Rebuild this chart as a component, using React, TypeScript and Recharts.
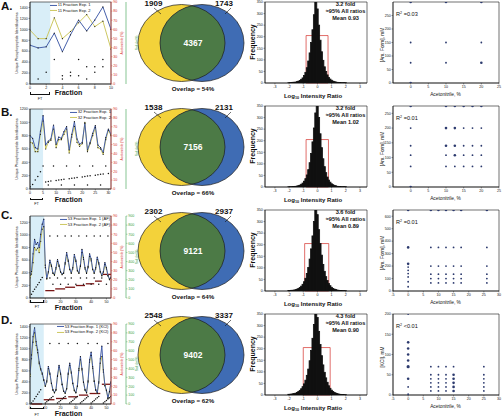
import React from 'react'
import {
  ComposedChart, Line, Scatter, XAxis, YAxis, ZAxis, ReferenceArea,
  BarChart, Bar, ScatterChart,
} from 'recharts'

const FONT = 'Arial, "Liberation Sans", Helvetica, sans-serif'
const INK = '#111'
const BLUE = '#4660ab'
const OLIVE = '#cdc862'
const RED = '#d42f2a'
const GREEN = '#37a049'
const DARK_RED = '#7a1616'
const FT_FILL = '#d9eef8'
const V_YELLOW = '#f3d23a'
const V_BLUE = '#3f6cb4'
const V_GREEN = '#4c7a46'
const NAVY = '#2c3a6e'

// ---------- fraction profiles (phosphopeptide IDs per fraction) ----------
const frac11 = [0, 1, 2, 3, 4, 5, 6, 7, 8, 9, 10]
const frac32 = [0, 1, 2, 3, 4, 5, 6, 7, 8, 9, 10, 11, 12, 13, 14, 15, 16, 17, 18, 19, 20, 21, 22, 23, 24, 25, 26, 27, 28, 29, 30, 31]
const frac54 = [0, 1, 2, 3, 4, 5, 6, 7, 8, 9, 10, 11, 12, 13, 14, 15, 16, 17, 18, 19, 20, 21, 22, 23, 24, 25, 26,
  27, 28, 29, 30, 31, 32, 33, 34, 35, 36, 37, 38, 39, 40, 41, 42, 43, 44, 45, 46, 47, 48, 49, 50, 51, 52, 53]

const exp1A = [710, 660, 680, 930, 590, 900, 1170, 970, 1170, 1410, 1000]
const exp2A = [985, 830, 830, 1210, 830, 960, 1120, 1270, 1050, 1150, 640]

const exp1B = [800, 760, 620, 600, 870, 1100, 660, 720, 750, 960, 670, 780, 760, 860, 935, 585,
  820, 1010, 750, 670, 700, 985, 585, 700, 835, 950, 660, 620, 550, 770, 900, 820]
const exp2B = [700, 690, 560, 560, 820, 1020, 600, 700, 730, 900, 620, 740, 740, 820, 900, 540,
  780, 940, 700, 640, 680, 1000, 560, 680, 800, 920, 620, 600, 520, 740, 880, 800]

const exp1C = [360, 420, 700, 930, 850, 880, 800, 1010, 1170, 1250, 520, 310, 420, 600, 520, 400, 370, 480,
  610, 520, 420, 380, 400, 560, 720, 600, 460, 400, 480, 690, 600, 440, 400, 520, 770, 640, 480, 400,
  500, 700, 620, 460, 400, 480, 650, 560, 420, 360, 420, 560, 480, 360, 300, 330]
const exp2C = [320, 380, 560, 800, 760, 790, 720, 900, 1090, 1130, 480, 300, 400, 560, 500, 390, 360, 460,
  580, 500, 410, 370, 390, 540, 680, 580, 450, 390, 460, 650, 580, 430, 390, 500, 720, 610, 460, 390,
  480, 660, 590, 450, 390, 460, 610, 540, 410, 350, 400, 530, 460, 350, 290, 310]

const exp1D = [540, 890, 1220, 1380, 1130, 980, 760, 640, 560, 440, 330, 420, 680, 560, 380, 260, 210, 260,
  520, 700, 560, 360, 240, 200, 280, 560, 740, 580, 380, 250, 210, 330, 640, 860, 640, 400, 260, 210,
  420, 800, 940, 680, 420, 260, 200, 400, 820, 1050, 620, 340, 250, 110, 230, 400]
const exp2D = [500, 820, 1120, 1290, 1060, 930, 730, 620, 540, 430, 320, 400, 640, 540, 370, 250, 200, 250,
  500, 670, 540, 350, 230, 190, 270, 540, 700, 560, 370, 240, 200, 320, 610, 800, 620, 390, 250, 200,
  400, 760, 880, 650, 410, 250, 190, 380, 740, 860, 580, 330, 240, 100, 220, 380]

// black markers (acetonitrile %, right red axis)
const dotsA = [[1, 5.5], [2, 13], [3, 27], [4, 9], [4, 5.5], [5, 13], [5, 9], [6, 27], [6, 9], [7, 19], [7, 5.5],
  [8, 19], [8, 13], [9, 27], [9, 19]]
const dotsB = [[0, 2.5], [1, 5], [2, 10], [3, 14], [4, 19.5], [5, 26],
  [9, 26], [14, 26], [19, 26], [24, 26], [29, 26],
  [6, 8], [7, 8.5], [8, 9], [10, 9.5], [11, 10], [12, 10.5], [13, 11], [15, 11.5], [16, 12], [17, 12.5],
  [18, 13], [20, 13.5], [21, 14], [22, 14.5], [23, 15], [25, 15.5], [26, 16], [27, 16.5], [28, 17], [30, 17.5],
  [7, 4.5], [12, 4.5], [17, 4.5], [22, 4.5], [27, 4.5]]
const dotsC = [[1, 4], [2, 7], [3, 9.5], [4, 12], [5, 14.5], [6, 17], [7, 20], [8, 22.5],
  [13, 68], [18, 68], [23, 68], [27, 68], [32, 68], [37, 68], [42, 68], [46, 68], [51, 68],
  [13, 22], [18, 22], [23, 22], [27, 22], [33, 22], [37, 22], [42, 22], [47, 22],
  [15, 15], [20, 15], [25, 15], [30, 15], [35, 15], [40, 15], [45, 15], [50, 15]]
const dotsD = [[1, 1], [2, 3.5], [3, 6], [4, 8.5], [5, 11], [6, 13.5], [7, 16],
  [10, 1], [11, 2.5], [12, 4], [13, 5.5], [14, 7], [15, 8.5],
  [18, 1], [19, 2.5], [20, 4], [21, 5.5], [22, 7], [23, 8.5],
  [26, 1], [27, 2.5], [28, 4], [29, 5.5], [30, 7], [31, 8.5],
  [33, 1], [34, 2.5], [35, 4], [36, 5.5], [37, 7], [38, 8.5],
  [40, 1], [41, 2.5], [42, 4], [43, 5.5], [44, 7], [45, 8.5],
  [48, 1], [49, 2.5], [50, 4], [51, 5.5], [52, 7], [53, 8.5],
  [13, 68], [19, 68], [25, 68], [31, 68], [38, 68], [44, 68], [51, 68]]

// salt steps [from fraction, to fraction, mM]
const stepsC = [[10, 16, 81], [16.5, 23, 100], [23, 29.5, 118], [30, 36, 137], [36.5, 42, 156], [42.5, 47, 185], [47, 53, 259]]
const stepsD = [[1, 8, 0], [9, 16, 48], [17, 24, 62], [25, 31, 81], [32, 38, 100], [39, 46, 118], [47, 53, 222]]

const legendNames = [
  ['11 Fraction Exp. 1', '11 Fraction Exp. 2'],
  ['32 Fraction Exp. 1', '32 Fraction Exp. 2'],
  ['53 Fraction Exp. 1 (AF)', '53 Fraction Exp. 2 (AF)'],
  ['53 Fraction Exp. 1 (KCl)', '53 Fraction Exp. 2 (KCl)'],
]
const ftEnd = [2.5, 5, 9.3, 9]
const fracTicks = [[0, 2, 4, 6, 8, 10], [0, 5, 10, 15, 20, 25, 30], [0, 10, 20, 30, 40, 50], [0, 10, 20, 30, 40, 50]]
const idsMax = [1500, 1200, 1300, 1450]
const idsTicks = [
  [0, 200, 400, 600, 800, 1000, 1200, 1400],
  [0, 200, 400, 600, 800, 1000, 1200],
  [0, 200, 400, 600, 800, 1000, 1200],
  [0, 200, 400, 600, 800, 1000, 1200, 1400],
]
const acnTicks = [0, 10, 20, 30, 40, 50, 60, 70, 80, 90]
const saltTicks = [0, 100, 200, 300, 400, 500, 600, 700, 800, 900]

// ---------- Venn ----------
const vennLeft = [1909, 1538, 2302, 2548]
const vennRight = [1743, 2131, 2937, 3337]
const vennBoth = [4367, 7156, 9121, 9402]
const overlapPct = [54, 66, 64, 62]

// ---------- ratio histograms ----------
const histBins = [-2, -1.9, -1.8, -1.7, -1.6, -1.5, -1.4, -1.3, -1.2, -1.1, -1, -0.9, -0.8, -0.7, -0.6, -0.5,
  -0.4, -0.3, -0.2, -0.1, 0, 0.1, 0.2, 0.3, 0.4, 0.5, 0.6, 0.7, 0.8, 0.9, 1, 1.1, 1.2, 1.3, 1.4, 1.5, 1.6,
  1.7, 1.8, 1.9, 2]
const histA = [1, 1, 2, 3, 3, 4, 6, 8, 11, 16, 22, 32, 46, 66, 95, 130, 175, 230, 295, 360, 320, 250, 185, 135,
  98, 70, 50, 35, 24, 17, 12, 8, 6, 4, 3, 2, 2, 1, 1, 1, 1]
const histB = [1, 1, 1, 2, 2, 3, 4, 6, 8, 12, 17, 25, 36, 52, 75, 105, 145, 195, 255, 320, 360, 300, 230, 170,
  122, 88, 62, 43, 30, 21, 14, 10, 7, 5, 3, 2, 2, 1, 1, 1, 1]
const histC = [2, 2, 3, 3, 4, 6, 8, 11, 15, 21, 29, 40, 55, 76, 102, 138, 182, 238, 300, 360, 330, 265, 205, 155,
  115, 85, 62, 45, 32, 23, 16, 11, 8, 6, 4, 3, 2, 2, 1, 1, 1]
const histD = [3, 3, 4, 5, 6, 8, 11, 15, 20, 27, 36, 48, 64, 85, 112, 148, 192, 245, 305, 360, 335, 275, 218, 170,
  130, 98, 74, 55, 40, 29, 21, 15, 11, 8, 6, 4, 3, 2, 2, 1, 1]
const foldChange = ['3.2', '3.2', '3.6', '4.3']
const meanRatio = ['0.93', '1.02', '0.89', '0.90']
const bracket95 = [[-0.8, 0.75], [-0.8, 0.78], [-0.9, 0.8], [-1.0, 0.9]]
const histTicks = [-3, -2, -1, 0, 1, 2, 3]
const freqTicks = [0, 50, 100, 150, 200, 250, 300, 350]

// ---------- salt vs acetonitrile scatter [acn %, salt mM, overlapping runs] ----------
const scA = [[0, 0, 2], [0, 75, 1], [0, 150, 1], [0, 300, 2], [10, 75, 1], [10, 150, 1], [10, 300, 2],
  [20, 75, 2], [20, 150, 1], [20, 300, 2]]
const scB = [[0, 0, 2], [0, 70, 1], [0, 108, 1], [0, 140, 1], [0, 200, 1], [0, 275, 2],
  [10, 70, 1], [10, 108, 1], [10, 140, 2], [10, 200, 2], [10, 275, 2],
  [12.5, 70, 1], [12.5, 108, 2], [12.5, 140, 2], [12.5, 200, 2], [12.5, 275, 2],
  [15, 70, 1], [15, 108, 1], [15, 140, 1], [15, 200, 1], [15, 275, 2],
  [17.5, 70, 1], [17.5, 108, 1], [17.5, 140, 1], [17.5, 200, 1], [17.5, 275, 2],
  [20, 70, 1], [20, 108, 1], [20, 140, 1], [20, 200, 1], [20, 275, 2]]
const scC = [[0, 650, 2], [0, 350, 2], [0, 218, 2], [0, 192, 1], [0, 166, 1], [0, 140, 1], [0, 113, 1], [0, 74, 1], [0, 34, 1],
  [7.5, 650, 2], [7.5, 350, 1], [7.5, 200, 1], [7.5, 135, 1], [7.5, 100, 1], [7.5, 65, 1],
  [10, 650, 2], [10, 350, 1], [10, 200, 1], [10, 135, 1], [10, 100, 1], [10, 65, 1],
  [12.5, 650, 2], [12.5, 350, 1], [12.5, 200, 1], [12.5, 135, 1], [12.5, 100, 1], [12.5, 65, 1],
  [15, 650, 2], [15, 350, 1], [15, 200, 1], [15, 135, 1], [15, 100, 1], [15, 65, 1],
  [17.5, 650, 2], [17.5, 350, 1], [17.5, 200, 1], [17.5, 135, 1], [17.5, 100, 1], [17.5, 65, 1],
  [26, 650, 2], [26, 350, 1], [26, 200, 1], [26, 135, 1], [26, 100, 1], [26, 65, 1]]
const scD = [[0, 200, 1], [0, 130, 2], [0, 115, 2], [0, 100, 2], [0, 85, 2], [0, 70, 3], [0, 40, 2], [0, 20, 1], [0, 2, 1],
  [7.5, 70, 1], [7.5, 50, 1], [7.5, 40, 1], [7.5, 30, 1], [7.5, 20, 1], [7.5, 10, 1],
  [10, 70, 1], [10, 50, 1], [10, 40, 1], [10, 30, 1], [10, 20, 1], [10, 10, 1],
  [12.5, 70, 1], [12.5, 50, 1], [12.5, 40, 1], [12.5, 30, 1], [12.5, 20, 1], [12.5, 10, 1],
  [15, 70, 1], [15, 50, 2], [15, 40, 2], [15, 30, 2], [15, 20, 2], [15, 10, 2],
  [25, 70, 1], [25, 50, 1], [25, 40, 1], [25, 30, 1], [25, 20, 1], [25, 10, 1]]
const scXDom = [[-5, 25], [-5, 25], [-5, 30], [-5, 30]]
const scXTicks = [[0, 5, 10, 15, 20, 25], [0, 5, 10, 15, 20, 25], [-5, 0, 5, 10, 15, 20, 25, 30], [-5, 0, 5, 10, 15, 20, 25, 30]]
const scYMax = [300, 275, 650, 200]
const scYTicks = [[0, 50, 100, 150, 200, 250], [0, 50, 100, 150, 200, 250], [0, 100, 200, 300, 400, 500, 600], [0, 50, 100, 150, 200]]
const scYLabel = ['[Am. Form], mM', '[Am. Form], mM', '[Am. Form], mM', '[KCl], mM']
const rSquared = ['=0.03', '=0.01', '=0.01', '<0.01']

// layout per row
const PANEL_LETTERS = ['A.', 'B.', 'C.', 'D.']
const LETTER_Y = [6.5, 112.5, 216, 320.5]
const LINE_TOP = [2, 109, 216, 323.5]
const LINE_H = [82, 80, 82, 80]
const FRACTION_Y = [92, 199, 306.5, 412.5]
const BRACKET_Y = [94.5, 200, 302.5, 409]
const FT_Y = [100, 205, 308.3, 416]
const LEGEND_X = [50, 70, 60, 57]
const RIGHT_TOP = [0, 104, 208, 312]

const lineFracs = [frac11, frac32, frac54, frac54]
const lineExp1 = [exp1A, exp1B, exp1C, exp1D]
const lineExp2 = [exp2A, exp2B, exp2C, exp2D]
const lineDots = [dotsA, dotsB, dotsC, dotsD]
const lineSteps = [[], [], stepsC, stepsD]
const histCounts = [histA, histB, histC, histD]
const scatterSets = [scA, scB, scC, scD]

const PLOT_L = 30
const PLOT_W = 81
const HIST_BIN_PX = 102 / 7.2 * 0.1

function Txt({ x, y, size, bold, color, rot, align = 'c', children }: any) {
  const tx = align === 'l' ? '0%' : align === 'r' ? '-100%' : '-50%'
  return (
    <div
      style={{
        position: 'absolute', left: x, top: y, fontSize: size, lineHeight: 1,
        fontWeight: bold ? 700 : 400, color: color || INK, whiteSpace: 'nowrap',
        transform: `translate(${tx}, -50%)` + (rot ? ` rotate(${rot}deg)` : ''),
      }}
    >
      {children}
    </div>
  )
}

const tinyDot = (p: any) => <circle cx={p.cx} cy={p.cy} r={0.75} fill={INK} />
const lineDot = { r: 0.6, fill: INK, stroke: 'none' }

// histogram bars are drawn touching each other
function HistBar(p: any) {
  if (!p.height || p.height <= 0) return null
  const w = Math.max(p.width || 0, HIST_BIN_PX) + 0.6
  const cx = p.x + (p.width || 0) / 2
  return <rect x={cx - w / 2} y={p.y} width={w} height={p.height} fill={INK} stroke={INK} strokeWidth={0.8} />
}

function axisStyle(color: string) {
  return {
    tick: { fontSize: 3.6, fill: color },
    axisLine: { stroke: color, strokeWidth: 0.6 },
    tickLine: { stroke: color, strokeWidth: 0.4 },
    tickSize: 1.5,
    tickMargin: 0.8,
    interval: 0 as const,
  }
}

function LinePanel({ r }: { r: number }) {
  const frac = lineFracs[r]
  const data = frac.map((x, i) => ({ x, exp1: lineExp1[r][i], exp2: lineExp2[r][i] }))
  const dots = lineDots[r].map(([x, y]) => ({ x, y }))
  const xDom = [frac[0], frac[frac.length - 1]]
  const top = LINE_TOP[r]
  const h = LINE_H[r]
  const ftW = ((ftEnd[r] - xDom[0]) / (xDom[1] - xDom[0])) * PLOT_W
  const mid = top + h / 2

  return (
    <>
      <div style={{ position: 'absolute', left: 0, top: top - 2 }}>
        <ComposedChart width={142} height={h + 8} data={data} margin={{ top: 2, right: 0, bottom: 0, left: 0 }}>
          <ReferenceArea yAxisId="ids" x1={xDom[0]} x2={ftEnd[r]} fill={FT_FILL} fillOpacity={1} stroke="none" />
          <XAxis dataKey="x" type="number" domain={xDom} ticks={fracTicks[r]} height={6} allowDataOverflow {...axisStyle(INK)} />
          <YAxis yAxisId="ids" type="number" width={30} domain={[0, idsMax[r]]} ticks={idsTicks[r]} allowDataOverflow {...axisStyle(INK)} />
          <YAxis yAxisId="acn" type="number" orientation="right" width={15} domain={[0, 90]} ticks={acnTicks} {...axisStyle(RED)} />
          <YAxis yAxisId="salt" type="number" orientation="right" width={16} domain={[0, 900]} ticks={saltTicks} {...axisStyle(GREEN)} />
          <ReferenceArea yAxisId="ids" x1={xDom[0]} x2={xDom[1]} y1={0} y2={idsMax[r]} fill="none" stroke={INK} strokeWidth={0.6} />
          {lineSteps[r].map(([a, b, v], i) => (
            <Line
              key={`step-${i}`}
              data={[{ x: a, s: v }, { x: b, s: v }]}
              dataKey="s"
              yAxisId="salt"
              stroke={DARK_RED}
              strokeWidth={1.3}
              dot={false}
              isAnimationActive={false}
            />
          ))}
          <Scatter data={dots} dataKey="y" yAxisId="acn" shape={tinyDot} isAnimationActive={false} />
          <Line dataKey="exp2" yAxisId="ids" stroke={OLIVE} strokeWidth={1} dot={lineDot} isAnimationActive={false} />
          <Line dataKey="exp1" yAxisId="ids" stroke={BLUE} strokeWidth={1} dot={lineDot} isAnimationActive={false} />
        </ComposedChart>
      </div>

      <Txt x={1} y={LETTER_Y[r]} size={11.5} bold align="l">{PANEL_LETTERS[r]}</Txt>
      <Txt x={17.5} y={mid} size={3.6} rot={-90}>Unique Phosphopeptide Identifications</Txt>
      <Txt x={122.5} y={mid} size={3.4} rot={-90} color={RED}>Acetonitrile (%)</Txt>
      <Txt x={137.5} y={mid} size={3.4} rot={-90} color={GREEN}>Salt (mM)</Txt>

      {legendNames[r].map((name, i) => (
        <div
          key={name}
          style={{
            position: 'absolute', left: LEGEND_X[r], top: top + 3 + i * 5.5, display: 'flex',
            alignItems: 'center', gap: 1.2, transform: 'translateY(-50%)',
          }}
        >
          <span style={{ display: 'block', width: 6.5, height: 1, background: i === 0 ? BLUE : OLIVE }} />
          <span style={{ fontSize: 4.1, lineHeight: 1, whiteSpace: 'nowrap' }}>{name}</span>
        </div>
      ))}

      <Txt x={68.5} y={FRACTION_Y[r]} size={7} bold>Fraction</Txt>
      <div
        style={{
          position: 'absolute', left: PLOT_L, top: BRACKET_Y[r] - 2.5, width: ftW, height: 2.5,
          borderLeft: `0.6px solid ${INK}`, borderRight: `0.6px solid ${INK}`, borderBottom: `0.6px solid ${INK}`,
          boxSizing: 'border-box',
        }}
      />
      <Txt x={PLOT_L + ftW / 2} y={FT_Y[r]} size={3.8}>FT</Txt>
    </>
  )
}

const VENN_RX1 = 43.5
const VENN_RX2 = 42
const VENN_RY = 38.5

function VennPanel({ r }: { r: number }) {
  const top = RIGHT_TOP[r]
  const clipId = `venn-clip-${r}`
  const left = [{ x: 56.5, y: 43 }]
  const right = [{ x: 77, y: 43 }]

  return (
    <>
      <div style={{ position: 'absolute', left: 125, top }}>
        <ScatterChart width={130} height={100} margin={{ top: 0, right: 0, bottom: 0, left: 0 }}>
          <XAxis dataKey="x" type="number" domain={[0, 130]} hide />
          <YAxis dataKey="y" type="number" domain={[0, 100]} reversed hide />
          <Scatter
            data={left}
            isAnimationActive={false}
            shape={(p: any) => (
              <g>
                <defs>
                  <clipPath id={clipId}>
                    <ellipse cx={p.cx} cy={p.cy} rx={VENN_RX1} ry={VENN_RY} />
                  </clipPath>
                </defs>
                <ellipse cx={p.cx} cy={p.cy} rx={VENN_RX1} ry={VENN_RY} fill={V_YELLOW} />
              </g>
            )}
          />
          <Scatter
            data={right}
            isAnimationActive={false}
            shape={(p: any) => <ellipse cx={p.cx} cy={p.cy} rx={VENN_RX2} ry={VENN_RY} fill={V_BLUE} />}
          />
          <Scatter
            data={right}
            isAnimationActive={false}
            shape={(p: any) => (
              <ellipse cx={p.cx} cy={p.cy} rx={VENN_RX2} ry={VENN_RY} fill={V_GREEN} clipPath={`url(#${clipId})`} />
            )}
          />
          <Scatter
            data={left}
            isAnimationActive={false}
            shape={(p: any) => <ellipse cx={p.cx} cy={p.cy} rx={VENN_RX1} ry={VENN_RY} fill="none" stroke="#1c1c1c" strokeWidth={0.7} />}
          />
          <Scatter
            data={right}
            isAnimationActive={false}
            shape={(p: any) => <ellipse cx={p.cx} cy={p.cy} rx={VENN_RX2} ry={VENN_RY} fill="none" stroke="#1c1c1c" strokeWidth={0.7} />}
          />
        </ScatterChart>
      </div>
      <svg width={130} height={30} style={{ position: 'absolute', left: 125, top }}>
        <line x1={29} y1={8} x2={36} y2={14} stroke={INK} strokeWidth={0.6} />
        <line x1={106} y1={8} x2={100} y2={14} stroke={INK} strokeWidth={0.6} />
      </svg>
      <Txt x={153.5} y={top + 3.5} size={8} bold>{vennLeft[r]}</Txt>
      <Txt x={224} y={top + 3.5} size={8} bold>{vennRight[r]}</Txt>
      <Txt x={193} y={top + 43} size={8.5} bold color="#fff">{vennBoth[r]}</Txt>
      <Txt x={193} y={top + 89} size={6.2} bold>Overlap = {overlapPct[r]}%</Txt>
    </>
  )
}

function HistPanel({ r }: { r: number }) {
  const top = RIGHT_TOP[r]
  const data = histBins.map((bin, i) => ({ bin, count: histCounts[r][i] }))
  return (
    <>
      <div style={{ position: 'absolute', left: 244, top }}>
        <BarChart width={125} height={89} data={data} margin={{ top: 2, right: 2, bottom: 0, left: 0 }} barCategoryGap={0} barGap={0}>
          <XAxis dataKey="bin" type="number" domain={[-3.7, 3.5]} ticks={histTicks} height={6} allowDataOverflow {...axisStyle(INK)} />
          <YAxis type="number" width={21} domain={[0, 350]} ticks={freqTicks} allowDataOverflow {...axisStyle(INK)} />
          <Bar dataKey="count" fill={INK} shape={HistBar} isAnimationActive={false} />
          <ReferenceArea x1={bracket95[r][0]} x2={bracket95[r][1]} y1={0} y2={205} fill="none" stroke={RED} strokeWidth={0.7} />
          <ReferenceArea x1={-3.7} x2={3.5} y1={0} y2={350} fill="none" stroke={INK} strokeWidth={0.6} />
        </BarChart>
      </div>
      <Txt x={252} y={top + 42} size={7} bold rot={-90}>Frequency</Txt>
      <Txt x={313} y={top + 96.5} size={6} bold>
        Log<sub style={{ fontSize: '0.62em', verticalAlign: '-0.25em' }}>10</sub> Intensity Ratio
      </Txt>
      <Txt x={345.5} y={top + 5} size={5.6} bold>{foldChange[r]} fold</Txt>
      <Txt x={345.5} y={top + 12.3} size={5.6} bold>≈95% All ratios</Txt>
      <Txt x={345.5} y={top + 19.3} size={5.6} bold>Mean {meanRatio[r]}</Txt>
    </>
  )
}

function ScatterPanel({ r }: { r: number }) {
  const top = RIGHT_TOP[r]
  const pts = scatterSets[r].map(([x, y, n]) => ({ x, y, n }))
  const xd = scXDom[r]
  return (
    <>
      <div style={{ position: 'absolute', left: 372, top }}>
        <ScatterChart width={130} height={89} margin={{ top: 2, right: 3, bottom: 0, left: 0 }}>
          <XAxis dataKey="x" type="number" domain={xd} ticks={scXTicks[r]} height={6} allowDataOverflow {...axisStyle(INK)} />
          <YAxis dataKey="y" type="number" width={21} domain={[0, scYMax[r]]} ticks={scYTicks[r]} allowDataOverflow {...axisStyle(INK)} />
          <ZAxis dataKey="n" type="number" domain={[1, 3]} range={[2.6, 8]} />
          <ReferenceArea x1={xd[0]} x2={xd[1]} y1={0} y2={scYMax[r]} fill="none" stroke={INK} strokeWidth={0.6} />
          <Scatter data={pts} fill={NAVY} isAnimationActive={false} />
        </ScatterChart>
      </div>
      <Txt x={383.3} y={top + 45} size={4.8} rot={-90}>{scYLabel[r]}</Txt>
      <Txt x={445.5} y={top + 94.5} size={4.8}>Acetonitrile, %</Txt>
      <Txt x={396} y={top + 15} size={5.6} align="l">
        R<sup style={{ fontSize: '0.65em', verticalAlign: '0.5em' }}>2</sup> {rSquared[r]}
      </Txt>
    </>
  )
}

export default function App() {
  return (
    <div
      style={{
        position: 'relative', width: 502, height: 418, overflow: 'hidden',
        background: '#fff', fontFamily: FONT, color: INK,
      }}
    >
      <style>{'body{margin:0}'}</style>
      {[0, 1, 2, 3].map(r => (
        <React.Fragment key={r}>
          <LinePanel r={r} />
          <VennPanel r={r} />
          <HistPanel r={r} />
          <ScatterPanel r={r} />
        </React.Fragment>
      ))}
    </div>
  )
}
